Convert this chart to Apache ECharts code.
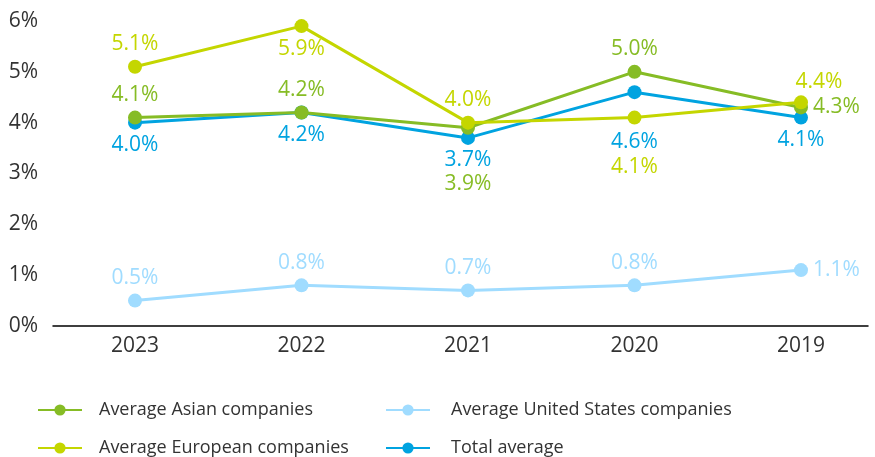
<!DOCTYPE html>
<html>
<head>
<meta charset="utf-8">
<script src="https://cdn.jsdelivr.net/npm/echarts@6/dist/echarts.min.js"></script>
<style>
  html, body { margin: 0; padding: 0; background: #fff; }
  #chart { width: 875px; height: 457px; }
</style>
</head>
<body>
<div id="chart"></div>
<script>
var years = ['2023', '2022', '2021', '2020', '2019'];
var yTicks = [0, 1, 2, 3, 4, 5, 6];

var asian = [4.1, 4.2, 3.9, 5.0, 4.3];
var european = [5.1, 5.9, 4.0, 4.1, 4.4];
var unitedStates = [0.5, 0.8, 0.7, 0.8, 1.1];
var totalAvg = [4.0, 4.2, 3.7, 4.6, 4.1];

// where each value label sits, per point
var asianPos = ['top', 'top', 'below3', 'top', 'right'];
var europeanPos = ['top', 'bottom', 'top', 'below2', 'topright'];
var usPos = ['top', 'top', 'top', 'top', 'right'];
var totalPos = ['bottom', 'bottom', 'bottom', 'below2', 'bottom'];

var font = '"Open Sans", "Noto Sans", sans-serif';

function makeData(values, positions) {
  return values.map(function (v, i) {
    var p = positions[i];
    var label = { position: p };
    if (p === 'below2') {
      label = { position: 'bottom', offset: [0, 27] };
    } else if (p === 'below3') {
      label = { position: 'bottom', offset: [0, 34] };
    } else if (p === 'topright') {
      label = { position: 'top', offset: [18, 2] };
    }
    return { value: v, label: label };
  });
}

function lineSeries(name, color, values, positions) {
  return {
    name: name,
    type: 'line',
    data: makeData(values, positions),
    symbol: 'circle',
    symbolSize: 14,
    lineStyle: { width: 3, color: color },
    itemStyle: { color: color },
    label: {
      show: true,
      color: color,
      fontFamily: font,
      fontSize: 21,
      distance: 5,
      formatter: function (p) { return p.value.toFixed(1) + '%'; }
    },
    emphasis: { disabled: true },
    animation: false
  };
}

function legendItem(name, left, top, pad) {
  return {
    data: [name],
    left: left,
    top: top,
    itemWidth: 44,
    itemHeight: 14,
    textStyle: { fontFamily: font, fontSize: 18, color: '#333', padding: [0, 0, 0, pad] }
  };
}

var chart = echarts.init(document.getElementById('chart'));

var option = {
  backgroundColor: '#fff',
  grid: [
    { left: 135, right: 74, top: 21, bottom: 131 },
    { left: 53, right: 7, top: 21, bottom: 131 }
  ],
  legend: [
    legendItem('Average Asian companies', 32, 396, 12),
    legendItem('Average European companies', 32, 434, 12),
    legendItem('Average United States companies', 380, 396, 16),
    legendItem('Total average', 380, 434, 16)
  ],
  xAxis: [
    {
      type: 'category',
      gridIndex: 0,
      data: years,
      boundaryGap: false,
      axisLine: { show: false },
      axisTick: { show: false },
      axisLabel: { fontFamily: font, fontSize: 21, color: '#333', margin: 10 }
    },
    {
      type: 'value',
      gridIndex: 1,
      axisLine: { show: true, onZero: false, lineStyle: { color: '#000', width: 1.5 } },
      axisTick: { show: false },
      axisLabel: { show: false },
      splitLine: { show: false }
    }
  ],
  yAxis: [
    {
      type: 'value',
      gridIndex: 0,
      min: yTicks[0],
      max: yTicks[yTicks.length - 1],
      interval: 1,
      axisLine: { show: false },
      axisTick: { show: false },
      splitLine: { show: false },
      axisLabel: {
        fontFamily: font, fontSize: 21, color: '#333', margin: 97,
        formatter: function (v) { return v + '%'; }
      }
    },
    {
      type: 'value',
      gridIndex: 1,
      show: false
    }
  ],
  series: [
    lineSeries('Average Asian companies', '#86bc25', asian, asianPos),
    lineSeries('Average European companies', '#c4d600', european, europeanPos),
    lineSeries('Average United States companies', '#a0dcff', unitedStates, usPos),
    lineSeries('Total average', '#00a3e0', totalAvg, totalPos)
  ]
};

// total and US drawn under the others, as in the picture
option.series[3].z = 1;
option.series[2].z = 1;

chart.setOption(option);
</script>
</body>
</html>
